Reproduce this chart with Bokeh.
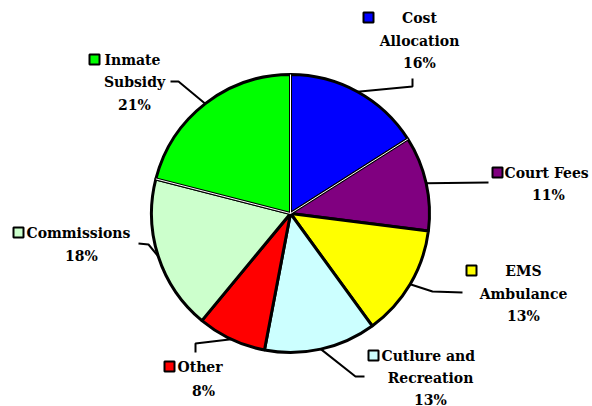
import numpy as np
from bokeh.plotting import figure
from bokeh.models import Range1d
from bokeh.core.properties import value
from bokeh.embed import file_html
from bokeh.resources import INLINE

# ---- data ----
categories = ["Cost Allocation", "Court Fees", "EMS Ambulance", "Cutlure and Recreation",
              "Other", "Commissions", "Inmate Subsidy"]
shares = [16, 11, 13, 13, 8, 18, 21]
colors = ["#0000FF", "#800080", "#FFFF00", "#CCFFFF", "#FF0000", "#CCFFCC", "#00FF00"]
label_lines = [["Cost", "Allocation"], ["Court Fees"], ["EMS", "Ambulance"],
               ["Cutlure and", "Recreation"], ["Other"], ["Commissions"], ["Inmate", "Subsidy"]]

H = 406
def Y(y):  # reference pixel row -> data y
    return H - y

p = figure(width=592, height=406, output_backend="svg", toolbar_location=None,
           x_range=Range1d(0, 592), y_range=Range1d(0, 406), min_border=0)
p.axis.visible = False
p.grid.visible = False
p.outline_line_color = None
p.background_fill_color = "white"

cx, cy, r = 290, Y(213), 139
vals = np.array(shares, dtype=float)
frac = vals / vals.sum()
cum = np.concatenate([[0], np.cumsum(frac)])
start = np.pi / 2 - 2 * np.pi * cum[1:]
end = np.pi / 2 - 2 * np.pi * cum[:-1]
p.wedge(x=cx, y=cy, radius=r, start_angle=start, end_angle=end, direction="anticlock",
        fill_color=colors, line_color="black", line_width=3)
# thin white separators on a few radii
for k in [0, 1, 6]:
    a = end[k]
    p.line([cx, cx + r * np.cos(a)], [cy, cy + r * np.sin(a)], line_color="white", line_width=1)

mid = (start + end) / 2
# leader lines: from pie edge to elbows (reference pixel coords)
elbows = [
    [(412, 86), (412, 78)],
    [(488, 182)],
    [(432, 291), (462, 292)],
    [(355, 376), (364, 376)],
    [(195, 343), (195, 352)],
    [(148, 244), (138, 243)],
    [(178, 81), (170, 81)],
]
for k, pts in enumerate(elbows):
    xs = [cx + r * np.cos(mid[k])] + [q[0] for q in pts]
    ys = [cy + r * np.sin(mid[k])] + [Y(q[1]) for q in pts]
    p.line(xs, ys, line_color="black", line_width=2)

font = value("DejaVu Serif")
fs = "14px"
# label layout: (square x, square y, [(text, x, y, align)...])
layout = [
    (368, 17, [(label_lines[0][0], 419, 17, "center"), (label_lines[0][1], 419, 40, "center"), (None, 419, 62, "center")]),
    (497, 172, [(label_lines[1][0], 504, 172, "left"), (None, 548, 194, "center")]),
    (471, 270, [(label_lines[2][0], 523, 270, "center"), (label_lines[2][1], 523, 293, "center"), (None, 523, 315, "center")]),
    (373, 355, [(label_lines[3][0], 381, 355, "left"), (label_lines[3][1], 430, 377, "center"), (None, 430, 399, "center")]),
    (169, 366, [(label_lines[4][0], 177, 366, "left"), (None, 203, 390, "center")]),
    (18, 232, [(label_lines[5][0], 26, 232, "left"), (None, 81, 255, "center")]),
    (94, 59, [(label_lines[6][0], 104, 59, "left"), (label_lines[6][1], 134, 81, "center"), (None, 134, 104, "center")]),
]
for k, (sx, sy, items) in enumerate(layout):
    p.scatter([sx], [Y(sy)], marker="square", size=10, fill_color=colors[k],
              line_color="black", line_width=2)
    for txt, tx, ty, al in items:
        t = txt if txt is not None else f"{shares[k]}%"
        p.text([tx], [Y(ty)], text=[t], text_font=font, text_font_size=fs,
               text_font_style="bold", text_align=al, text_baseline="middle", text_color="black")

open("out.html", "w").write(file_html(p, INLINE))
